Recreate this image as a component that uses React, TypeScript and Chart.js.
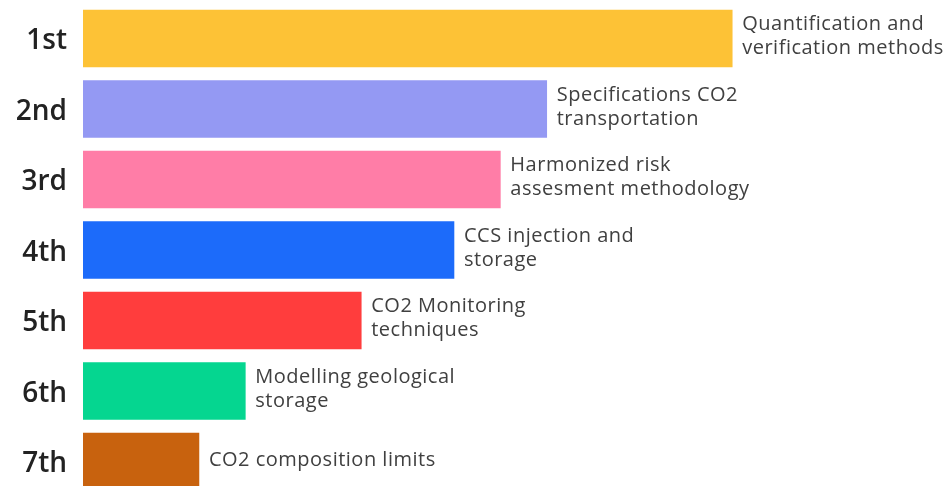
import React, { useEffect, useRef } from "react";
import { Chart, registerables } from "chart.js";

Chart.register(...registerables);

const ranks = ["1st", "2nd", "3rd", "4th", "5th", "6th", "7th"];
const topics = [
  ["Quantification and", "verification methods"],
  ["Specifications CO2", "transportation"],
  ["Harmonized risk", "assesment methodology"],
  ["CCS injection and", "storage"],
  ["CO2 Monitoring", "techniques"],
  ["Modelling geological", "storage"],
  ["CO2 composition limits"],
];
const scores = [56, 40, 36, 32, 24, 14, 10];
const colors = ["#FDC236", "#9499F3", "#FF7DA7", "#1C6BFA", "#FF3D3D", "#05D690", "#C8620E"];

const barLabelPlugin = {
  id: "barLabels",
  afterDatasetsDraw(chart: any) {
    const ctx = chart.ctx;
    const meta = chart.getDatasetMeta(0);
    ctx.save();
    ctx.font = "400 20px 'Open Sans', sans-serif";
    (ctx as any).letterSpacing = "0.5px";
    ctx.fillStyle = "#404040";
    ctx.textAlign = "left";
    ctx.textBaseline = "middle";
    meta.data.forEach((el: any, i: number) => {
      const lines = topics[i];
      const lh = 24;
      const x = el.x + 10;
      const startY = el.y - ((lines.length - 1) * lh) / 2 - (lines.length === 1 ? 1 : 2);
      lines.forEach((ln, j) => ctx.fillText(ln, x, startY + j * lh));
    });
    ctx.restore();
  },
};

export default function App() {
  const ref = useRef<HTMLCanvasElement | null>(null);
  useEffect(() => {
    if (!ref.current) return;
    const chart = new Chart(ref.current, {
      type: "bar",
      data: {
        labels: ranks.map((_, i) => i) as any,
        datasets: [
          {
            data: scores.map((v, i) => ({ x: v, y: i })) as any,
            backgroundColor: colors,
            borderWidth: 0,
            barThickness: 57,
          },
        ],
      },
      options: {
        indexAxis: "y",
        animation: false,
        responsive: true,
        maintainAspectRatio: false,
        layout: { padding: 0 },
        plugins: { legend: { display: false }, tooltip: { enabled: false } },
        scales: {
          x: {
            type: "linear",
            min: 0,
            max: 74.7,
            display: false,
          },
          y: {
            type: "linear",
            reverse: true,
            offset: false,
            min: -0.546,
            max: 6.348,
            grid: { display: false, drawTicks: false, offset: false },
            border: { display: false },
            ticks: {
              stepSize: 1,
              includeBounds: false,
              padding: 16,
              labelOffset: 3,
              color: "#222222",
              font: { family: "'Open Sans', sans-serif", size: 28, weight: 600 as any },
              callback: (v: any) => (Number.isInteger(v) && ranks[v] ? ranks[v] : ""),
            },
            afterFit: (scale: any) => {
              scale.width = 83;
              scale.paddingTop = 0;
              scale.paddingBottom = 0;
            },
          },
        },
      },
      plugins: [barLabelPlugin],
    });
    return () => chart.destroy();
  }, []);
  return (
    <div style={{ position: "fixed", left: 0, top: 0, width: 949, height: 486, background: "#ffffff" }}>
      <canvas ref={ref} />
    </div>
  );
}
